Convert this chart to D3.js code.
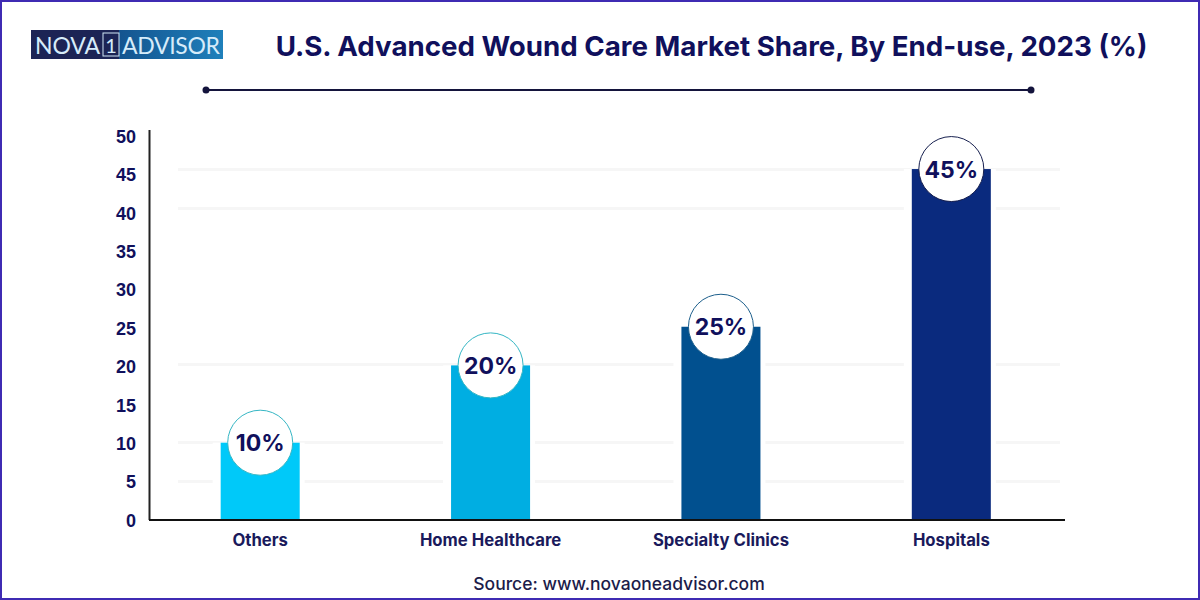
<!DOCTYPE html>
<html>
<head>
<meta charset="utf-8">
<script src="https://cdn.jsdelivr.net/npm/d3@7"></script>
<style>
html, body { margin: 0; padding: 0; background: #fff; }
svg { display: block; }
</style>
</head>
<body>
<div id="chart"></div>
<script>
// data
const categories = ['Others', 'Home Healthcare', 'Specialty Clinics', 'Hospitals'];
const shares = [10, 20, 25, 45.4];
const shareLabels = ['10%', '20%', '25%', '45%'];
const barColors = ['#00c9f9', '#00aee2', '#01508f', '#0a2a7e'];
const ringColors = ['#35b6c4', '#35b6c4', '#1d5f8c', '#17204f'];
const yTicks = [0, 5, 10, 15, 20, 25, 30, 35, 40, 45, 50];
const gridValues = [5, 10, 20, 40, 45];

const width = 1200;
const height = 600;
const navy = '#10105c';

const svg = d3.select('#chart').append('svg')
    .attr('width', width)
    .attr('height', height)
    .attr('viewBox', `0 0 ${width} ${height}`);

// Frame
svg.append('rect')
    .attr('x', 1).attr('y', 1)
    .attr('width', width - 2).attr('height', height - 2)
    .attr('fill', '#fff')
    .attr('stroke', '#3f2bb3')
    .attr('stroke-width', 2);

// Logo
const logoGrad = svg.append('defs').append('linearGradient').attr('id', 'logoBlue');
logoGrad.append('stop').attr('offset', '0%').attr('stop-color', '#14548f');
logoGrad.append('stop').attr('offset', '100%').attr('stop-color', '#1f80bb');

svg.append('rect').attr('x', 31).attr('y', 30).attr('width', 88).attr('height', 29).attr('fill', '#1c2455');
svg.append('rect').attr('x', 119).attr('y', 30).attr('width', 104).attr('height', 29).attr('fill', 'url(#logoBlue)');
svg.append('rect').attr('x', 103).attr('y', 33).attr('width', 16).attr('height', 23)
    .attr('fill', 'none').attr('stroke', '#cfe6f5').attr('stroke-width', 1);

const logoText = svg.append('g')
    .attr('font-family', 'Lato, sans-serif')
    .attr('font-size', 23)
    .attr('fill', '#d6ecfa');
logoText.append('text').attr('x', 35).attr('y', 54).attr('textLength', 65).text('NOVA');
logoText.append('text').attr('x', 111).attr('y', 53).attr('text-anchor', 'middle').attr('font-size', 20).text('1');
logoText.append('text').attr('x', 122).attr('y', 54).attr('textLength', 98).text('ADVISOR');

// Title and rule
svg.append('text')
    .attr('x', 711.5).attr('y', 56)
    .attr('text-anchor', 'middle')
    .attr('font-family', 'Inter, sans-serif')
    .attr('font-weight', 700)
    .attr('font-size', 27.7)
    .attr('fill', navy)
    .text('U.S. Advanced Wound Care Market Share, By End-use, 2023 (%)');

svg.append('line')
    .attr('x1', 206).attr('x2', 1031).attr('y1', 90).attr('y2', 90)
    .attr('stroke', '#14143c').attr('stroke-width', 2);
svg.selectAll('.rule-dot').data([206, 1031]).enter().append('circle')
    .attr('class', 'rule-dot')
    .attr('cx', d => d).attr('cy', 90).attr('r', 3.5)
    .attr('fill', '#14143c');

// Scales
const x = d3.scaleBand()
    .domain(categories)
    .range([145, 1066.5])
    .paddingInner(0.657)
    .paddingOuter(0.3285);

const y = d3.scaleLinear().domain([0, 50]).range([520, 133.5]);
// the tick labels and gridlines do not sit quite on the bar scale in the original
const yLabels = d3.scaleLinear().domain([0, 50]).range([520.5, 136.5]);
const yGrid = d3.scaleLinear().domain([0, 50]).range([520.5, 130.5]);

// Faint gridlines
svg.append('g').selectAll('line').data(gridValues).enter().append('line')
    .attr('x1', 178).attr('x2', 1060)
    .attr('y1', d => yGrid(d)).attr('y2', d => yGrid(d))
    .attr('stroke', '#f6f6f6')
    .attr('stroke-width', 3);

// White gap around each bar, the gridlines break there
svg.append('g').selectAll('rect').data(shares).enter().append('rect')
    .attr('x', (d, i) => x(categories[i]) - 8)
    .attr('y', d => y(d))
    .attr('width', x.bandwidth() + 13)
    .attr('height', d => y(0) - y(d))
    .attr('fill', '#fff');

// Bars
svg.append('g').selectAll('rect').data(shares).enter().append('rect')
    .attr('x', (d, i) => x(categories[i]))
    .attr('y', d => y(d))
    .attr('width', x.bandwidth())
    .attr('height', d => y(0) - y(d))
    .attr('fill', (d, i) => barColors[i]);

// Axes
const yAxis = svg.append('g')
    .attr('transform', 'translate(136,0)')
    .call(d3.axisLeft(yLabels).tickValues(yTicks).tickSize(0).tickPadding(0));
yAxis.select('.domain').remove();
yAxis.selectAll('text')
    .attr('font-family', '"Liberation Sans", sans-serif')
    .attr('font-weight', 700)
    .attr('font-size', 18)
    .attr('fill', navy);

const xAxis = svg.append('g')
    .attr('transform', 'translate(0,520)')
    .call(d3.axisBottom(x).tickSize(0).tickPadding(14.5));
xAxis.select('.domain').remove();
xAxis.selectAll('text')
    .attr('font-family', 'Inter, sans-serif')
    .attr('font-weight', 700)
    .attr('font-size', 16.7)
    .attr('fill', '#1a1a5c');

svg.append('line')
    .attr('x1', 149.5).attr('x2', 149.5).attr('y1', 130).attr('y2', y(0))
    .attr('stroke', '#222').attr('stroke-width', 2);
svg.append('line')
    .attr('x1', 149).attr('x2', 1065).attr('y1', y(0)).attr('y2', y(0))
    .attr('stroke', '#111').attr('stroke-width', 2);

// Value badges
const badges = svg.append('g').selectAll('g').data(shares).enter().append('g')
    .attr('transform', (d, i) => `translate(${x(categories[i]) + x.bandwidth() / 2},${y(d)})`);
badges.append('circle')
    .attr('r', 32.5)
    .attr('fill', '#fff')
    .attr('stroke', (d, i) => ringColors[i])
    .attr('stroke-width', 1);
badges.append('text')
    .attr('text-anchor', 'middle')
    .attr('dy', 8.5)
    .attr('font-family', 'Inter, sans-serif')
    .attr('font-weight', 700)
    .attr('font-size', 23)
    .attr('fill', navy)
    .text((d, i) => shareLabels[i]);

// Source
svg.append('text')
    .attr('x', 619).attr('y', 590)
    .attr('text-anchor', 'middle')
    .attr('font-family', 'Inter, sans-serif')
    .attr('font-weight', 500)
    .attr('font-size', 17.5)
    .attr('fill', '#1c1c4a')
    .text('Source: www.novaoneadvisor.com');
</script>
</body>
</html>
